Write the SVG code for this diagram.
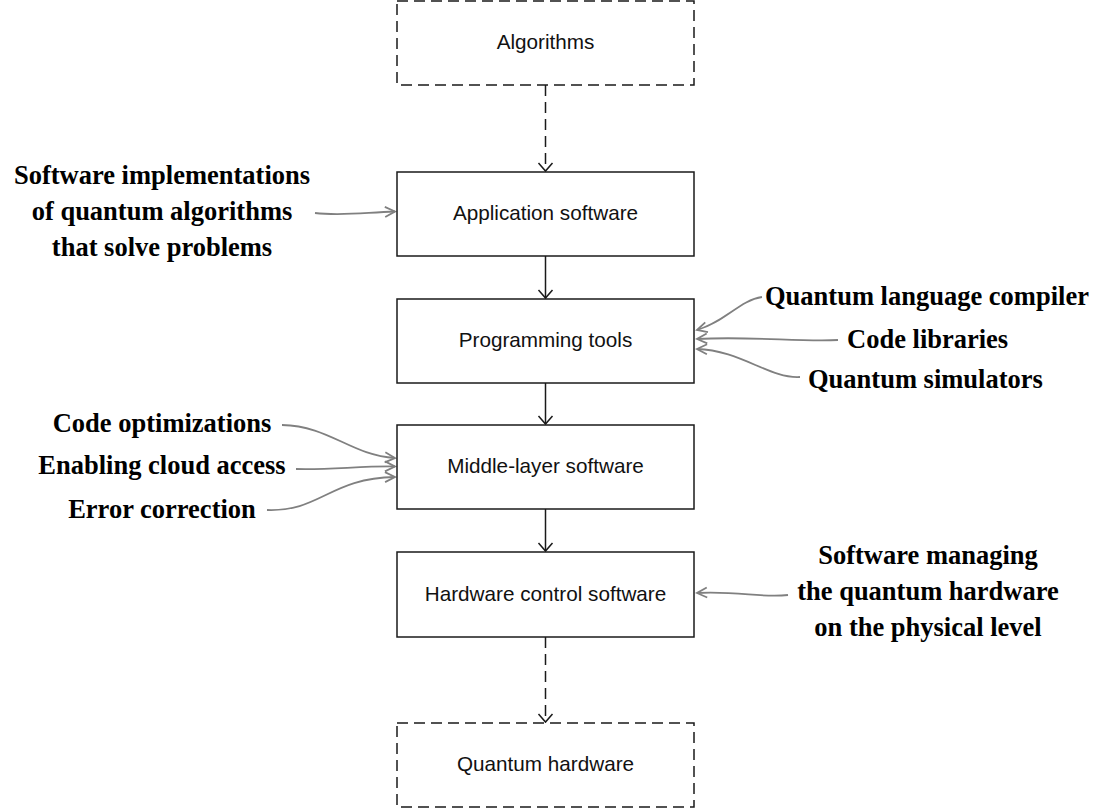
<svg xmlns="http://www.w3.org/2000/svg" width="1100" height="809" viewBox="0 0 1100 809">
<style>
.box{fill:#fff;stroke:#1a1a1a;stroke-width:1.5}
.dash{stroke-dasharray:11 6}
.bt{font-family:"Liberation Sans",Arial,sans-serif;font-size:20.7px;fill:#111;text-anchor:middle}
.lab{font-family:"Liberation Serif","Times New Roman",serif;font-weight:bold;font-size:26.5px;fill:#000}
.mid{text-anchor:middle}
.flow{fill:none;stroke:#1a1a1a;stroke-width:1.5;marker-end:url(#ab)}
.note{fill:none;stroke:#808080;stroke-width:1.8;marker-end:url(#ag)}
</style>
<defs>
<marker id="ab" markerUnits="userSpaceOnUse" markerWidth="20" markerHeight="20" viewBox="-10 -10 20 20" refX="0" refY="0" orient="auto" overflow="visible">
<path d="M -8 -7 L 0 0 L -8 7" fill="none" stroke="#1a1a1a" stroke-width="1.5"/>
</marker>
<marker id="ag" markerUnits="userSpaceOnUse" markerWidth="20" markerHeight="20" viewBox="-10 -10 20 20" refX="0" refY="0" orient="auto" overflow="visible">
<path d="M -10 -5 L 0 0 L -10 5" fill="none" stroke="#808080" stroke-width="1.8"/>
</marker>
</defs>
<rect width="1100" height="809" fill="#fff"/>

<g id="connectors">
<path class="flow dash" d="M 545.5 85 L 545.5 171"/>
<path class="flow" d="M 545.5 256 L 545.5 298"/>
<path class="flow" d="M 545.5 383 L 545.5 424"/>
<path class="flow" d="M 545.5 509 L 545.5 551"/>
<path class="flow dash" d="M 545.5 637 L 545.5 722"/>
<path class="note" d="M 315 213 C 340 216, 360 213, 395 211.5"/>
<path class="note" d="M 762 297 C 740 300, 725 322, 697 330"/>
<path class="note" d="M 838 340 C 800 342, 750 336, 697 339"/>
<path class="note" d="M 800 377 C 770 379, 740 350, 697 349"/>
<path class="note" d="M 282 425 C 330 426, 350 455, 395 458"/>
<path class="note" d="M 296 469 C 330 470, 360 466, 395 466.5"/>
<path class="note" d="M 267 510 C 320 512, 330 478, 395 477"/>
<path class="note" d="M 788 595 C 760 598, 740 591, 697 593"/>
</g>

<g id="algorithms"><rect class="box dash" x="397" y="1" width="297" height="84"/><text class="bt" x="545.5" y="49">Algorithms</text></g>
<g id="application-software"><rect class="box" x="397" y="172" width="297" height="84"/><text class="bt" x="545.5" y="220">Application software</text></g>
<g id="programming-tools"><rect class="box" x="397" y="299" width="297" height="84"/><text class="bt" x="545.5" y="347">Programming tools</text></g>
<g id="middle-layer-software"><rect class="box" x="397" y="425" width="297" height="84"/><text class="bt" x="545.5" y="473">Middle-layer software</text></g>
<g id="hardware-control-software"><rect class="box" x="397" y="552" width="297" height="85"/><text class="bt" x="545.5" y="601">Hardware control software</text></g>
<g id="quantum-hardware"><rect class="box dash" x="397" y="723" width="297" height="84"/><text class="bt" x="545.5" y="771">Quantum hardware</text></g>

<g id="label-app">
<text class="lab mid" x="162" y="184">Software implementations</text>
<text class="lab mid" x="162" y="220">of quantum algorithms</text>
<text class="lab mid" x="162" y="256">that solve problems</text>
</g>
<g id="label-compiler"><text class="lab" x="765" y="305">Quantum language compiler</text></g>
<g id="label-libraries"><text class="lab" x="847" y="348">Code libraries</text></g>
<g id="label-simulators"><text class="lab" x="808" y="388">Quantum simulators</text></g>
<g id="label-optimizations"><text class="lab mid" x="162" y="432">Code optimizations</text></g>
<g id="label-cloud"><text class="lab mid" x="162" y="474">Enabling cloud access</text></g>
<g id="label-error"><text class="lab mid" x="162" y="518">Error correction</text></g>
<g id="label-hw">
<text class="lab mid" x="928" y="564">Software managing</text>
<text class="lab mid" x="928" y="600">the quantum hardware</text>
<text class="lab mid" x="928" y="636">on the physical level</text>
</g>
</svg>
